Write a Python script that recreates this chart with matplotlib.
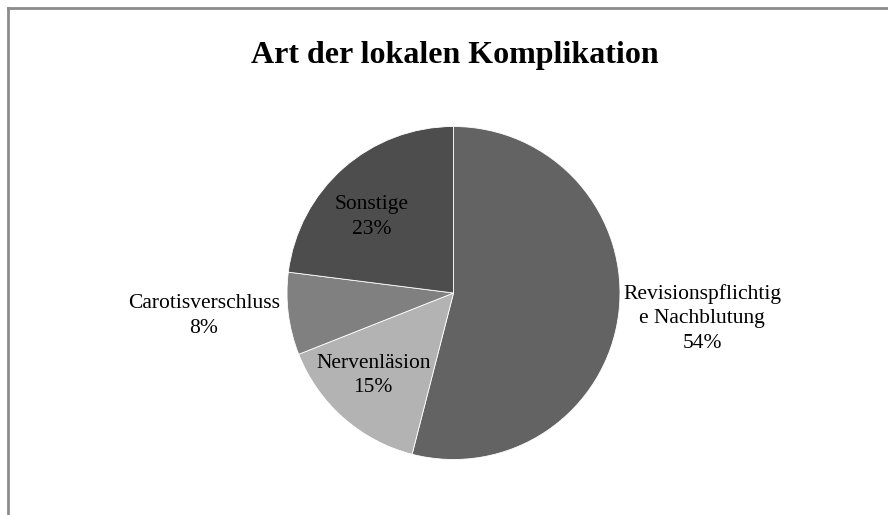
import numpy as np
import matplotlib
matplotlib.use('Agg')
import matplotlib.pyplot as plt

# Daten aus dem Diagramm
labels = ['Revisionspflichtig\ne Nachblutung', 'Nervenläsion', 'Carotisverschluss', 'Sonstige']
percent = [54, 15, 8, 23]
colors = ['#636363', '#b3b3b3', '#808080', '#4d4d4d']

# Beschriftungs-Layout: Abstand vom Mittelpunkt (in Radien) und Winkelkorrektur
label_dist = [1.50, 0.69, 1.505, 0.67]
label_nudge = [1.4, -2.9, -1.9, 5.6]

plt.rcParams['font.family'] = ['Liberation Serif', 'DejaVu Serif']

fig = plt.figure(figsize=(8.88, 5.15), dpi=100)
fig.patch.set_facecolor('white')

# Rahmen links und oben (Rest abgeschnitten)
fig.add_artist(plt.Line2D([7.5 / 888, 7.5 / 888], [0, 1 - 8 / 515], color='#8c8c8c', lw=2))
fig.add_artist(plt.Line2D([7.5 / 888, 1], [1 - 8 / 515, 1 - 8 / 515], color='#8c8c8c', lw=2))

fig.text(455 / 888, 1 - 56 / 515, 'Art der lokalen Komplikation', ha='center', va='center',
         fontsize=23, fontweight='bold')

ax = fig.add_axes([287 / 888, (515 - 459.5) / 515, 333 / 888, 333 / 515])
wedges, _ = ax.pie(percent, colors=colors, startangle=90, counterclock=False,
                   wedgeprops=dict(edgecolor='white', linewidth=0.6))
ax.set_xlim(-1, 1)
ax.set_ylim(-1, 1)
ax.axis('off')

for w, lab, p, d, nudge in zip(wedges, labels, percent, label_dist, label_nudge):
    mid = np.deg2rad((w.theta1 + w.theta2) / 2 + nudge)
    ax.text(d * np.cos(mid), d * np.sin(mid), f'{lab}\n{p}%', ha='center', va='center',
            fontsize=15.5, linespacing=1.38, color='black', clip_on=False)

fig.savefig('out.png', dpi=100)
